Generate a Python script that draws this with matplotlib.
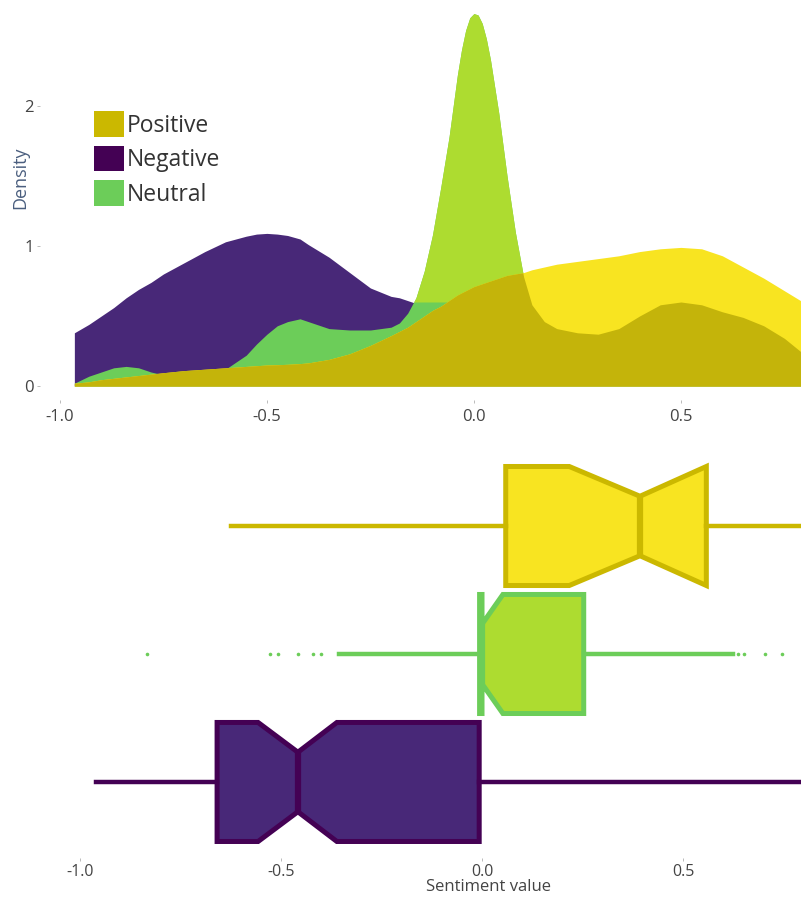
import numpy as np
import matplotlib.pyplot as plt
from matplotlib.patches import Patch

plt.rcParams['font.family'] = ['Open Sans', 'DejaVu Sans']

# density curves, read on a shared grid of sentiment values
grid = [-0.965, -0.93, -0.90, -0.87, -0.84, -0.81, -0.78, -0.75, -0.70, -0.65,
        -0.60, -0.55, -0.525, -0.50, -0.475, -0.45, -0.42, -0.40, -0.35, -0.30, -0.25, -0.20,
        -0.18, -0.16, -0.14, -0.12, -0.10, -0.08, -0.06, -0.04, -0.03, -0.02, -0.01, 0.00,
        0.01, 0.02, 0.03, 0.04, 0.06, 0.08, 0.10, 0.12, 0.14, 0.17, 0.20, 0.25,
        0.30, 0.35, 0.40, 0.45, 0.50, 0.55, 0.60, 0.65, 0.70, 0.75, 0.80]
dens_negative = [0.38, 0.44, 0.50, 0.56, 0.63, 0.69, 0.74, 0.80, 0.88, 0.96,
                 1.03, 1.07, 1.085, 1.09, 1.085, 1.075, 1.05, 1.01, 0.92, 0.81, 0.70, 0.64,
                 0.63, 0.61, 0.59, 0.57, 0.55, 0.53, 0.51, 0.49, 0.48, 0.47, 0.46, 0.45,
                 0.44, 0.43, 0.42, 0.41, 0.39, 0.37, 0.35, 0.33, 0.31, 0.29, 0.27, 0.24,
                 0.22, 0.20, 0.19, 0.18, 0.17, 0.16, 0.15, 0.14, 0.13, 0.12, 0.11]
dens_neutral = [0.02, 0.07, 0.10, 0.13, 0.14, 0.13, 0.10, 0.08, 0.07, 0.08,
                0.12, 0.22, 0.30, 0.37, 0.43, 0.46, 0.48, 0.46, 0.41, 0.40, 0.40, 0.42,
                0.45, 0.52, 0.63, 0.82, 1.08, 1.42, 1.78, 2.22, 2.40, 2.54, 2.63, 2.66,
                2.65, 2.59, 2.48, 2.33, 1.95, 1.50, 1.10, 0.78, 0.58, 0.46, 0.41, 0.38,
                0.37, 0.41, 0.50, 0.58, 0.60, 0.58, 0.53, 0.49, 0.43, 0.34, 0.22]
dens_positive = [0.02, 0.03, 0.045, 0.055, 0.065, 0.075, 0.085, 0.095, 0.11, 0.12,
                 0.13, 0.14, 0.145, 0.15, 0.152, 0.155, 0.16, 0.165, 0.19, 0.23, 0.29, 0.36,
                 0.39, 0.42, 0.46, 0.50, 0.54, 0.57, 0.61, 0.65, 0.665, 0.68, 0.695, 0.71,
                 0.72, 0.73, 0.74, 0.75, 0.77, 0.79, 0.80, 0.81, 0.83, 0.85, 0.87, 0.89,
                 0.91, 0.93, 0.96, 0.98, 0.99, 0.98, 0.93, 0.85, 0.77, 0.68, 0.59]

# box statistics per class (Negative, Neutral, Positive from bottom to top)
box_labels = ['Negative', 'Neutral', 'Positive']
box_whislo = [-0.961, -0.356, -0.624]
box_q1 = [-0.659, -0.006, 0.059]
box_med = [-0.458, 0.0, 0.393]
box_q3 = [-0.007, 0.253, 0.558]
box_whishi = [1.0, 0.624, 1.0]
box_cilo = [-0.557, 0.0, 0.217]
box_cihi = [-0.361, 0.052, 0.558]
neutral_fliers = [-0.833, -0.527, -0.507, -0.458, -0.42, -0.40,
                  0.637, 0.652, 0.704, 0.746]

purple = '#482878'
purple_dark = '#440154'
green = '#6ccd59'
yellowgreen = '#addc30'
yellow = '#f8e421'
olive = '#c4b40a'
olive_edge = '#cbb800'

W, H = 801, 897
fig = plt.figure(figsize=(W / 100, H / 100), dpi=100)
ax1 = fig.add_axes([40 / W, 1 - 400 / H, 761 / W, 400 / H])
ax2 = fig.add_axes([40 / W, 1 - 858 / H, 761 / W, 418 / H])

# resample the straight-segment curves finely so overlaps are cut cleanly
xf = np.linspace(grid[0], grid[-1], 3000)
neg = np.interp(xf, grid, dens_negative)
neu = np.interp(xf, grid, dens_neutral)
pos = np.interp(xf, grid, dens_positive)

ax1.fill_between(xf, 0, neg, color=purple, lw=0)
ax1.fill_between(xf, 0, neu, color=green, lw=0)
ax1.fill_between(xf, 0.6, neu, where=neu > 0.6, interpolate=True, color=yellowgreen, lw=0)
ax1.fill_between(xf, 0, pos, color=yellow, lw=0)
ax1.fill_between(xf, 0, np.minimum(pos, np.maximum(neg, neu)), color=olive, lw=0)

ax1.set_xlim(-1.048, 0.790)
ax1.set_ylim(-0.1, 2.757)
ax1.set_xticks([-1.0, -0.5, 0.0, 0.5])
ax1.set_xticklabels(['-1.0', '-0.5', '0.0', '0.5'])
ax1.set_yticks([0, 1, 2])
ax1.set_yticklabels(['0', '1', '2'])
ax1.set_ylabel('Density', fontsize=13, color='#4a5e7e')
ax1.yaxis.set_label_coords(-0.0145, 0.555)

handles = [Patch(facecolor=olive_edge, label='Positive'),
           Patch(facecolor=purple_dark, label='Negative'),
           Patch(facecolor=green, label='Neutral')]
fig.legend(handles=handles, loc='upper left', bbox_to_anchor=(83 / W, 1 - 100 / H),
           frameon=False, fontsize=16.5, borderpad=0, handlelength=1.3,
           handleheight=1.35, handletextpad=0.12, labelspacing=0.34,
           labelcolor='#333333')

# notched boxes
stats = []
for i in range(3):
    stats.append(dict(label=box_labels[i], whislo=box_whislo[i], q1=box_q1[i],
                      med=box_med[i], q3=box_q3[i], whishi=box_whishi[i],
                      cilo=box_cilo[i], cihi=box_cihi[i],
                      fliers=neutral_fliers if i == 1 else []))
fills = [purple, yellowgreen, yellow]
edges = [purple_dark, green, olive_edge]
for i in range(3):
    bp = ax2.bxp([stats[i]], positions=[i], widths=0.93, orientation='horizontal',
                 shownotches=True, patch_artist=True, showcaps=False,
                 boxprops=dict(facecolor=fills[i], edgecolor=edges[i], linewidth=3.6),
                 medianprops=dict(color=edges[i], linewidth=4.5, solid_capstyle='butt'),
                 whiskerprops=dict(color=edges[i], linewidth=3.2),
                 flierprops=dict(marker='o', markersize=2.6, markerfacecolor=edges[i],
                                 markeredgecolor='none'))

ax2.set_xlim(-1.0995, 0.7935)
ax2.set_ylim(-0.594, 2.672)
ax2.set_yticks([])
ax2.set_xticks([-1.0, -0.5, 0.0, 0.5])
ax2.set_xticklabels(['-1.0', '-0.5', '0.0', '0.5'])
ax2.set_xlabel('Sentiment value', fontsize=12, color='#444444')
ax2.xaxis.set_label_coords(0.589, -0.051)

for ax in (ax1, ax2):
    for s in ax.spines.values():
        s.set_visible(False)
    ax.tick_params(length=2.5, width=0.7, color='#bbbbbb', labelsize=12,
                   labelcolor='#444444', pad=2)
ax1.tick_params(axis='x', pad=4)
ax2.tick_params(axis='x', pad=1.5, labelsize=11.5)

fig.savefig('out.png', dpi=100, facecolor='white')
